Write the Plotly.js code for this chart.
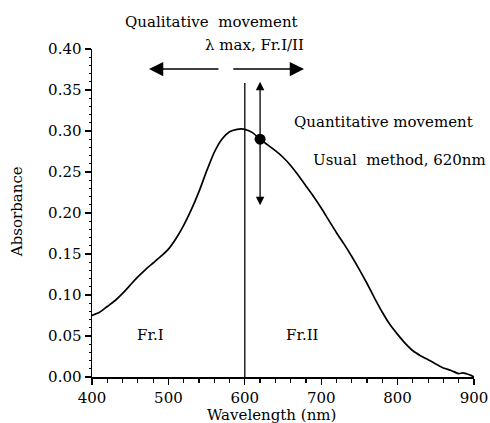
<!DOCTYPE html>
<html>
<head>
<meta charset="utf-8">
<script src="https://cdn.plot.ly/plotly-3.0.1.min.js"></script>
<style>
  html, body { margin: 0; padding: 0; background: #fff; }
  #chart { width: 490px; height: 423px; }
</style>
</head>
<body>
<div id="chart"></div>
<script>
// Absorption spectrum, wavelength in nm
const wavelength = [400, 405, 410, 420, 430, 440, 450, 460, 470, 480, 490, 500, 510, 520, 530, 540, 550, 560, 570, 580, 590, 596, 600, 610, 620, 630, 640, 650, 660, 670, 680, 690, 700, 710, 720, 730, 740, 750, 760, 770, 780, 790, 800, 810, 820, 830, 840, 850, 860, 870, 880, 885, 890, 895, 900];
const absorbance = [0.075, 0.077, 0.079, 0.086, 0.093, 0.102, 0.112, 0.122, 0.131, 0.139, 0.147, 0.156, 0.169, 0.185, 0.204, 0.226, 0.251, 0.274, 0.290, 0.299, 0.302, 0.3025, 0.302, 0.298, 0.290, 0.283, 0.276, 0.268, 0.258, 0.246, 0.233, 0.220, 0.206, 0.191, 0.176, 0.162, 0.147, 0.131, 0.114, 0.096, 0.079, 0.064, 0.052, 0.041, 0.032, 0.026, 0.021, 0.016, 0.011, 0.008, 0.004, 0.005, 0.004, 0.0025, 0.0];

// Measuring point of the usual method
const usualWavelength = [620];
const usualAbsorbance = [0.290];

// Boundary between fractions
const lambdaMax = 600;
const boundaryTop = 0.3585;

// Range of the quantitative arrow
const quantArrow = [0.2077, 0.36];

const xTicks = [400, 500, 600, 700, 800, 900];
const yTicks = [0.00, 0.05, 0.10, 0.15, 0.20, 0.25, 0.30, 0.35, 0.40];
const yTickText = yTicks.map(v => v.toFixed(2));

const serif = 'DejaVu Serif, serif';
const ink = '#000';
const fs = 15;

const traces = [
  {
    x: wavelength, y: absorbance, type: 'scatter', mode: 'lines',
    line: { color: ink, width: 1.7, shape: 'spline', smoothing: 0.6 }, hoverinfo: 'skip', cliponaxis: false
  },
  {
    x: usualWavelength, y: usualAbsorbance, type: 'scatter', mode: 'markers',
    marker: { color: ink, size: 11 }, hoverinfo: 'skip', cliponaxis: false
  }
];

function label(text, x, y, extra) {
  return Object.assign({
    text: text, x: x, y: y, xref: 'x', yref: 'y', showarrow: false,
    font: { family: serif, size: fs, color: ink }, xanchor: 'center', yanchor: 'middle'
  }, extra || {});
}

function arrow(x, y, ax, ay, extra) {
  return Object.assign({
    text: '', x: x, y: y, ax: ax, ay: ay, xref: 'x', yref: 'y', axref: 'x', ayref: 'y',
    showarrow: true, arrowhead: 2, arrowsize: 1.9, arrowwidth: 1.5, arrowcolor: ink, standoff: 0, startstandoff: 0
  }, extra || {});
}

const layout = {
  width: 490, height: 423,
  margin: { l: 92, r: 16, t: 49, b: 46 },
  paper_bgcolor: '#fff', plot_bgcolor: '#fff',
  showlegend: false,
  font: { family: serif, size: fs, color: ink },
  xaxis: {
    range: [400, 900], tickvals: xTicks, ticktext: xTicks.map(String),
    showgrid: false, zeroline: false, showline: true, linecolor: ink, linewidth: 1.5,
    ticks: 'outside', ticklen: 6, tickwidth: 1.3, tickcolor: ink,
    minor: { dtick: 20, ticks: 'outside', ticklen: 4, tickwidth: 1.2, tickcolor: ink, showgrid: false },
    tickfont: { family: serif, size: fs, color: ink }, fixedrange: true
  },
  yaxis: {
    range: [0, 0.40], tickvals: yTicks, ticktext: yTickText,
    showgrid: false, zeroline: false, showline: true, linecolor: ink, linewidth: 1.5,
    ticks: 'outside', ticklen: 6, tickwidth: 1.3, tickcolor: ink,
    minor: { dtick: 0.01, ticks: 'outside', ticklen: 2, tickwidth: 1.2, tickcolor: ink, showgrid: false },
    tickfont: { family: serif, size: fs, color: ink }, fixedrange: true
  },
  shapes: [
    {
      type: 'line', xref: 'x', yref: 'y', x0: lambdaMax, x1: lambdaMax, y0: 0, y1: boundaryTop,
      line: { color: ink, width: 1.3 }
    }
  ],
  annotations: [
    label('Qualitative\u00a0 movement', 0.314, 1.082, { xref: 'paper', yref: 'paper' }),
    label('\u03bb max, Fr.I/II', 0.4267, 1.012, { xref: 'paper', yref: 'paper' }),
    arrow(474.6, 0.3756, 567.5, 0.3756),
    arrow(677.5, 0.3756, 583, 0.3756),
    arrow(usualWavelength[0], quantArrow[1], usualWavelength[0], quantArrow[0], { arrowside: 'end+start', arrowhead: 2, arrowsize: 1.3, arrowwidth: 1.3 }),
    label('Quantitative movement', 782, 0.3113),
    label('Usual\u00a0 method, 620nm', 803, 0.2646),
    label('Fr.I', 476, 0.0512),
    label('Fr.II', 675, 0.0512),
    {
      text: 'Absorbance', xref: 'paper', yref: 'paper', x: -0.196, y: 0.503, textangle: -90,
      showarrow: false, font: { family: serif, size: fs, color: ink }, xanchor: 'center', yanchor: 'middle'
    },
    {
      text: 'Wavelength (nm)', xref: 'paper', yref: 'paper', x: 0.471, y: -0.115,
      showarrow: false, font: { family: serif, size: fs, color: ink }, xanchor: 'center', yanchor: 'middle'
    }
  ]
};

Plotly.newPlot('chart', traces, layout, { staticPlot: true, displayModeBar: false });
</script>
</body>
</html>
